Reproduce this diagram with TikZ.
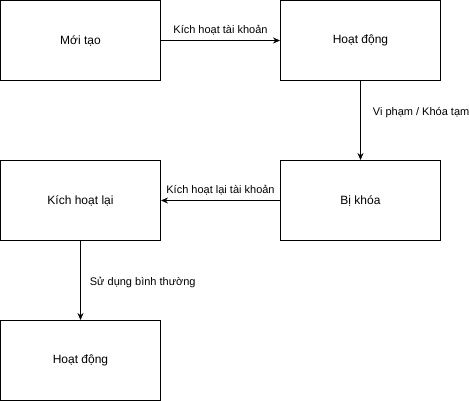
\documentclass[tikz,border=0pt]{standalone}
\usepackage{fontspec}
\setmainfont{Liberation Sans}
\usetikzlibrary{arrows.meta}

\tikzset{
  statebox/.style={draw,line width=1pt,minimum width=160pt,minimum height=80pt,
    inner sep=0pt,font=\fontsize{12}{14}\selectfont},
  trans/.style={-{Stealth[length=7pt,width=6pt]},line width=0.8pt},
  translabel/.style={font=\fontsize{11}{13}\selectfont,inner sep=0pt}
}

\begin{document}
\begin{tikzpicture}[x=1pt,y=-1pt]
  \useasboundingbox (0,0) rectangle (469,401);
  \node[statebox] (moitao) at (80.5,40.5) {Mới tạo};
  \node[statebox] (hoatdong) at (360.5,40.5) {Hoạt động};
  \node[statebox] (bikhoa) at (360.5,200.5) {Bị khóa};
  \node[statebox] (kichhoatlai) at (80.5,200.5) {Kích hoạt lại};
  \node[statebox] (hoatdong2) at (80.5,360.5) {Hoạt động};
  % transitions
  \draw[trans] (moitao) -- node[translabel,above=5pt] {Kích hoạt tài khoản} (hoatdong);
  \draw[trans] (hoatdong) -- node[translabel,pos=0.4,right=12pt] {Vi phạm / Khóa tạm} (bikhoa);
  \draw[trans] (bikhoa) -- node[translabel,above=5pt] {Kích hoạt lại tài khoản} (kichhoatlai);
  \draw[trans] (kichhoatlai) -- node[translabel,pos=0.52,right=9pt] {Sử dụng bình thường} (hoatdong2);
\end{tikzpicture}
\end{document}
